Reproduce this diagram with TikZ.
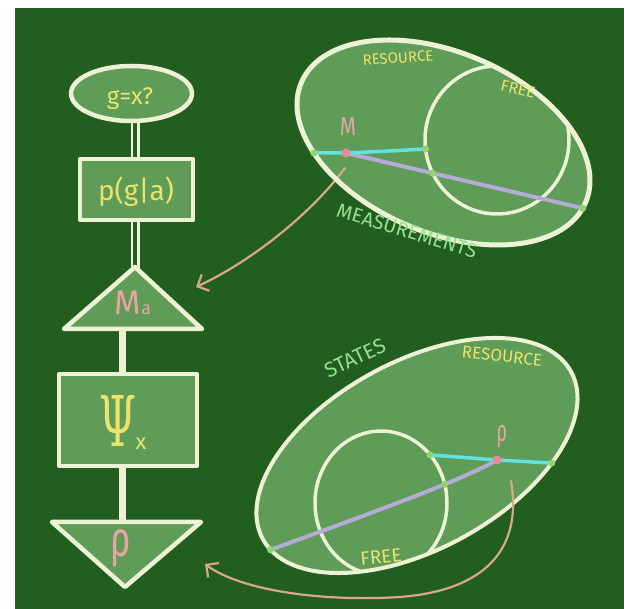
\documentclass[tikz,border=0pt]{standalone}
\usepackage{fontspec}
\usepackage{graphicx}
\setmainfont{Fira Sans}
\newfontfamily\serifgreek{DejaVu Serif}
\usetikzlibrary{shapes.geometric,arrows.meta,intersections}
\definecolor{board}{HTML}{235E21}
\definecolor{lightboard}{HTML}{5E9C57}
\definecolor{chalk}{HTML}{EEF2D4}
\definecolor{chyellow}{HTML}{ECE36C}
\definecolor{chpink}{HTML}{E8A3A3}
\definecolor{dotpink}{HTML}{E48A98}
\definecolor{chcyan}{HTML}{62E2E0}
\definecolor{chlav}{HTML}{B4ABD6}
\definecolor{chgreen}{HTML}{92E28C}
\definecolor{dotgreen}{HTML}{8FD46E}
\definecolor{chtan}{HTML}{D9A886}
\newcommand\fsz[1]{\fontsize{#1}{#1}\selectfont}
\pgfdeclarelayer{bg}
\pgfsetlayers{bg,main}
\begin{document}
\begin{tikzpicture}[x=1pt,y=-1pt,
  shapebox/.style={draw=chalk, fill=lightboard, line width=4.5pt, line join=round, inner sep=0pt, outer sep=0pt},
  link/.style={draw=chalk, line width=6.5pt, shorten <=-3pt, shorten >=-3pt},
  dbl/.style={draw=chalk, line width=2.8pt, double=board, double distance=3.4pt, shorten <=-3pt, shorten >=-3pt},
  rim/.style={draw=chalk, line width=#1, line join=round},
  lbl/.style={inner sep=0pt, outer sep=0pt},
  ylbl/.style={lbl, text=chyellow},
  glbl/.style={lbl, text=chgreen},
  plbl/.style={lbl, text=chpink},
  pathcyan/.style={draw=chcyan, line width=3.5pt, line cap=round},
  pathlav/.style={draw=chlav, line width=4pt, line cap=round},
  gdot/.style={fill=dotgreen},
  pdot/.style={fill=dotpink},
  pointer/.style={draw=chtan, line width=2.2pt, line cap=round, -{Straight Barb[length=9pt,width=18pt,line width=2.2pt]}}
]
\useasboundingbox (0,0) rectangle (630,609);
\begin{pgfonlayer}{bg}
  \fill[white] (0,0) rectangle (630,609);
  \fill[board] (15,8) rectangle (624,609);
\end{pgfonlayer}

% ---------------- flowchart ----------------
\coordinate (maApex) at (135,267);
\coordinate (maLeft) at (64,329);
\coordinate (maRight) at (202,329);
\coordinate (maBase) at (122.5,329);
\coordinate (rhoLeft) at (52,522);
\coordinate (rhoRight) at (201,522);
\coordinate (rhoTip) at (125,587);
\coordinate (rhoTop) at (122.5,522);

\node[shapebox, ellipse, minimum width=121pt, minimum height=55pt] (goal) at (131.5,93.5) {};
\node[shapebox, rectangle, minimum width=113pt, minimum height=61pt] (prob) at (136.5,189.5) {};
\node[shapebox, rectangle, minimum width=138pt, minimum height=92pt] (psi) at (128,420) {};
\filldraw[shapebox] (maApex) -- (maRight) -- (maLeft) -- cycle;
\filldraw[shapebox] (rhoLeft) -- (rhoRight) -- (rhoTip) -- cycle;

\begin{pgfonlayer}{bg}
  \draw[dbl] (maApex |- goal.south) -- (maApex |- prob.north);
  \draw[dbl] (maApex |- prob.south) -- (maApex);
  \draw[link] (maBase) -- (maBase |- psi.north);
  \draw[link] (rhoTop |- psi.south) -- (rhoTop);
\end{pgfonlayer}

\node[ylbl, font=\fsz{24}] (goalText) at (130,99) {g=x?};
\node[ylbl, font=\fsz{28}] (probText) at (136,192) {p(g|a)};
\node[plbl, font=\fsz{34}] (maText) at (133,303) {M{\fsz{18}a}};
\node[ylbl] (psiText) at (118,421) {\scalebox{0.6}[1]{\serifgreek\fsz{70}Ψ}};
\node[ylbl, font=\fsz{22}] (psiSub) at (141,444) {x};
\node[plbl] (rhoText) at (121,548) {\scalebox{0.7}[1]{\fsz{50}ρ}};

% ---------------- measurements ellipse ----------------
\coordinate (topC) at (443.5,142.5);
\fill[lightboard, rotate around={-22.8:(topC)}] (topC) ellipse [x radius=154.3, y radius=90.3];
\begin{scope}
  \clip[rotate around={-22.8:(topC)}] (topC) ellipse [x radius=154.3, y radius=90.3];
  \draw[rim=3.5pt, name path global=innerTop] (497,140) ellipse [x radius=72, y radius=74];
\end{scope}
\begin{scope}[shift={(topC)}, rotate=-22.8]
  \coordinate (topL) at ({154.3*cos(138.5)},{90.3*sin(138.5)});
  \coordinate (topR) at ({154.3*cos(4.2)},{90.3*sin(4.2)});
\end{scope}
\coordinate (topCi) at ({497+72*cos(173)},{140+74*sin(173)});
\coordinate (topM) at (346,153);
\draw[pathlav, name path=lavTop] (topM) -- (topR);
\draw[pathcyan] (topL) -- (topM) .. controls (390,151) .. (topCi);
\path[name intersections={of=lavTop and innerTop, by={topX,topX2}, sort by=lavTop}];
\draw[pointer] (345,168) coordinate (arrTopS) .. controls (310,215) and (250,262) .. (196,287) coordinate (arrTopE);
\draw[rim=5pt, rotate around={-22.8:(topC)}] (topC) ellipse [x radius=154.3, y radius=90.3];
\fill[gdot] (topL) circle (3.6);
\fill[gdot] (topR) circle (3.6);
\fill[gdot] (topCi) circle (3.6);
\fill[gdot] (topX) circle (3.6);
\fill[pdot] (topM) circle (4.6);
\node[plbl, font=\fsz{26}] (topMText) at (348,127) {\scalebox{0.8}[1]{M}};
\node[ylbl, font=\fsz{15}, rotate=4] (topRes) at (398,58) {RESOURCE};
\node[ylbl, font=\fsz{16}, rotate=-13] (topFree) at (518,89) {FREE};
\node[glbl, font=\fsz{20}, rotate=-17] (meas) at (407,231) {MEASUREMENTS};

% ---------------- states ellipse ----------------
\coordinate (botC) at (417,455.5);
\fill[lightboard, rotate around={28.5:(botC)}] (botC) ellipse [x radius=175.4, y radius=93.9];
\begin{scope}
  \clip[rotate around={28.5:(botC)}] (botC) ellipse [x radius=175.4, y radius=93.9];
  \draw[rim=3.5pt, name path global=innerBot] (381,503) ellipse [x radius=66, y radius=72];
\end{scope}
\begin{scope}[shift={(botC)}, rotate=28.5]
  \coordinate (botL) at ({175.4*cos(172.1)},{93.9*sin(172.1)});
  \coordinate (botR) at ({175.4*cos(49.1)},{93.9*sin(49.1)});
\end{scope}
\coordinate (botCi) at ({381+66*cos(-41.9)},{503+72*sin(-41.9)});
\coordinate (botRho) at (497,460);
\draw[pathlav, name path=lavBot] (botRho) .. controls (470,476) and (400,503) .. (botL);
\draw[pathcyan] (botCi) -- (botRho) -- (botR);
\path[name intersections={of=lavBot and innerBot, by={botX,botX2}, sort by=lavBot}];
\draw[rim=4pt, rotate around={28.5:(botC)}] (botC) ellipse [x radius=175.4, y radius=93.9];
\draw[pointer] (511,481) coordinate (arrBotS) .. controls (522,545) and (490,590) .. (400,597) .. controls (320,602) and (240,590) .. (205,564) coordinate (arrBotE);
\fill[gdot] (botL) circle (3.6);
\fill[gdot] (botR) circle (3.6);
\fill[gdot] (botCi) circle (3.6);
\fill[gdot] (botX) circle (3.6);
\fill[pdot] (botRho) circle (4.6);
\node[plbl] (botRhoText) at (502,437) {\scalebox{0.6}[1]{\fsz{30}ρ}};
\node[glbl, font=\fsz{21}, rotate=25] (states) at (355,358) {STATES};
\node[ylbl, font=\fsz{17}, rotate=-6] (botRes) at (502,356) {RESOURCE};
\node[ylbl, font=\fsz{19}, rotate=6] (botFree) at (381,557) {FREE};
\end{tikzpicture}
\end{document}
